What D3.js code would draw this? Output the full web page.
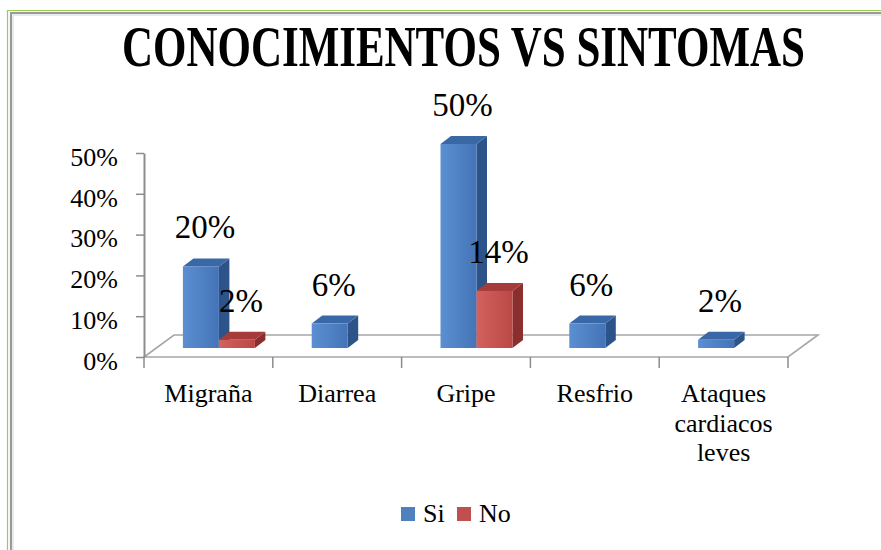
<!DOCTYPE html>
<html>
<head>
<meta charset="utf-8">
<script src="https://cdn.jsdelivr.net/npm/d3@7"></script>
<style>
  body { margin: 0; background: #fff; }
  svg { display: block; }
  text { font-family: "Liberation Serif", "DejaVu Serif", serif; fill: #000; }
</style>
</head>
<body>
<div id="chart"></div>
<script>
// Datos del gráfico
const categories = ['Migraña', 'Diarrea', 'Gripe', 'Resfrio', 'Ataques cardiacos leves'];
const seriesNames = ['Si', 'No'];
const siValues = [0.20, 0.06, 0.50, 0.06, 0.02];
const noValues = [0.02, 0, 0.14, 0, 0];
const yTicks = [0, 0.1, 0.2, 0.3, 0.4, 0.5];
const titleText = 'CONOCIMIENTOS VS SINTOMAS';

// Colores fijos
const COLORS = {
    Si: { light: '#5b8fd1', dark: '#4474b7', side: '#2d5489', top: '#3a68a6', legend: '#4f81bd' },
    No: { light: '#d2625f', dark: '#bb4845', side: '#8a2f2d', top: '#a53c39', legend: '#c0504d' }
};

const W = 881, H = 550;
const svg = d3.select('#chart').append('svg').attr('width', W).attr('height', H);
svg.append('rect').attr('width', W).attr('height', H).attr('fill', '#fff');

// Marco
svg.append('path').attr('d', 'M7.5,550 V10.5 H881').attr('fill', 'none').attr('stroke', '#92d050').attr('stroke-width', 1.2);
svg.append('path').attr('d', 'M11,550 V13 H881').attr('fill', 'none').attr('stroke', '#9a9a9a').attr('stroke-width', 2.2);
svg.append('path').attr('d', 'M13,550 V15 H881').attr('fill', 'none').attr('stroke', '#d8d8d8').attr('stroke-width', 1);

// Título (letra condensada: se estrecha en horizontal)
const title = svg.append('text')
    .attr('x', 0).attr('y', 0)
    .style('font-size', '56px').style('font-weight', 'bold')
    .text(titleText);
const tw = title.node().getComputedTextLength();
title.attr('transform', `translate(122,66) scale(${683 / tw},1)`);

// Escalas
const x = d3.scaleBand().domain(categories).range([144, 788]).padding(0);
const y = d3.scaleLinear().domain([0, 0.5]).range([357, 153]);
const xSub = d3.scaleBand().domain(seriesNames).range([0, 72]);

// Profundidad 3D
const FLOOR_DX = 30, FLOOR_DY = -22;
const BAR_SHIFT_X = 10.5, BAR_SHIFT_Y = -9;
const DEPTH_X = 10.5, DEPTH_Y = -8;

// Gradientes de las caras frontales
const defs = svg.append('defs');
seriesNames.forEach(s => {
    const g = defs.append('linearGradient').attr('id', 'grad' + s).attr('x1', 0).attr('x2', 1).attr('y1', 0).attr('y2', 0);
    g.append('stop').attr('offset', '0%').attr('stop-color', COLORS[s].light);
    g.append('stop').attr('offset', '100%').attr('stop-color', COLORS[s].dark);
});

// Suelo
const x0 = x.range()[0], x1 = x.range()[1], yb = y(0);
svg.append('path')
    .attr('d', `M${x0},${yb} L${x1},${yb} L${x1 + FLOOR_DX},${yb + FLOOR_DY} L${x0 + FLOOR_DX},${yb + FLOOR_DY} Z`)
    .attr('fill', 'none').attr('stroke', '#a6a6a6').attr('stroke-width', 1.6);

// Eje Y
const yAxis = svg.append('g')
    .attr('transform', `translate(${x0},0)`)
    .call(d3.axisLeft(y).tickValues(yTicks).tickFormat(d3.format('.0%')).tickSize(8).tickSizeOuter(0).tickPadding(18));
yAxis.select('.domain').attr('stroke', '#8c8c8c').attr('stroke-width', 2);
yAxis.selectAll('.tick line').attr('stroke', '#8c8c8c').attr('stroke-width', 1.5);
yAxis.selectAll('.tick text')
    .attr('transform', 'translate(0,4)')
    .style('font-size', '26px').style('font-family', '"Liberation Serif", serif').attr('fill', '#000');

// Eje X (marcas en los límites de las categorías)
const boundaries = categories.map(c => x(c)).concat([x1]);
svg.append('g').selectAll('line').data(boundaries).enter().append('line')
    .attr('x1', d => d).attr('x2', d => d)
    .attr('y1', yb).attr('y2', yb + 11)
    .attr('stroke', '#8c8c8c').attr('stroke-width', 1.5);

const xAxis = svg.append('g')
    .attr('transform', `translate(0,${yb})`)
    .call(d3.axisBottom(x).tickSize(0).tickPadding(27));
xAxis.select('.domain').remove();
xAxis.selectAll('.tick text').each(function(d) {
    const t = d3.select(this);
    t.text(null).style('font-size', '26px').style('font-family', '"Liberation Serif", serif').attr('fill', '#000');
    // separar en líneas según el ancho de la categoría
    const words = d.split(' ');
    const lines = [];
    let cur = '';
    words.forEach(w => {
        const test = cur ? cur + ' ' + w : w;
        if (cur && test.length * 11.5 > x.bandwidth() - 10) { lines.push(cur); cur = w; }
        else cur = test;
    });
    lines.push(cur);
    lines.forEach((l, i) => {
        t.append('tspan').attr('x', 0).attr('dy', i === 0 ? '0.71em' : '1.13em').text(l);
    });
});

// Barras
const barData = [];
categories.forEach((c, i) => {
    [siValues[i], noValues[i]].forEach((v, j) => {
        barData.push({ cat: c, key: seriesNames[j], value: v });
    });
});

const bars = svg.append('g').selectAll('g')
    .data(barData.filter(d => d.value > 0))
    .enter().append('g');

function bx(d) { return x(d.cat) + x.bandwidth() / 2 - 36 + BAR_SHIFT_X + xSub(d.key); }

bars.each(function(d) {
    const g = d3.select(this);
    const left = bx(d), w = xSub.bandwidth();
    const top = y(d.value) + BAR_SHIFT_Y, bottom = y(0) + BAR_SHIFT_Y;
    // cara lateral
    g.append('path')
        .attr('d', `M${left + w},${top} L${left + w + DEPTH_X},${top + DEPTH_Y} L${left + w + DEPTH_X},${bottom + DEPTH_Y} L${left + w},${bottom} Z`)
        .attr('fill', COLORS[d.key].side);
    // cara superior
    g.append('path')
        .attr('d', `M${left},${top} L${left + DEPTH_X},${top + DEPTH_Y} L${left + w + DEPTH_X},${top + DEPTH_Y} L${left + w},${top} Z`)
        .attr('fill', COLORS[d.key].top);
    // cara frontal
    g.append('rect')
        .attr('x', left).attr('y', top)
        .attr('width', w).attr('height', bottom - top)
        .attr('fill', 'url(#grad' + d.key + ')');
});

// Etiquetas de datos
bars.append('text')
    .attr('x', d => bx(d) + xSub.bandwidth() / 2 + 4)
    .attr('y', d => y(d.value) + BAR_SHIFT_Y + DEPTH_Y - 20)
    .attr('text-anchor', 'middle')
    .style('font-size', '33px')
    .text(d => d3.format('.0%')(d.value));

// Leyenda
const legend = svg.append('g').selectAll('g')
    .data(seriesNames)
    .enter().append('g')
    .attr('transform', (d, i) => `translate(${401 + i * 56},507)`);
legend.append('rect').attr('width', 14).attr('height', 14).attr('fill', d => COLORS[d].legend);
legend.append('text').attr('x', 22).attr('y', 15).style('font-size', '26px').text(d => d);
</script>
</body>
</html>
